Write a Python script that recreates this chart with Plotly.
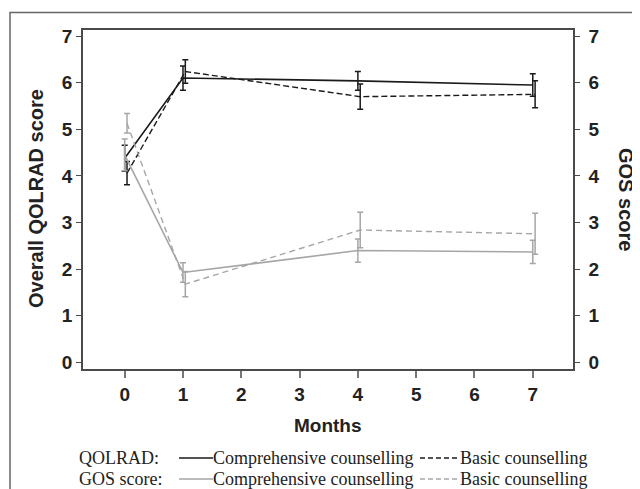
import plotly.graph_objects as go

# ---------------- data ----------------
months = [0, 1, 4, 7]
x_ticks = [0, 1, 2, 3, 4, 5, 6, 7]
y_ticks = [0, 1, 2, 3, 4, 5, 6, 7]

qolrad_comp = [4.38, 6.10, 6.04, 5.95]
qolrad_comp_err = [0.28, 0.26, 0.20, 0.24]
qolrad_basic = [4.06, 6.24, 5.70, 5.75]
qolrad_basic_err = [0.25, 0.25, 0.27, 0.29]

gos_comp = [4.45, 1.93, 2.40, 2.37]
gos_comp_err = [0.34, 0.21, 0.25, 0.25]
gos_basic = [5.13, 1.68, 2.84, 2.76]
gos_basic_err = [0.21, 0.27, 0.38, 0.44]

# ---------------- style ----------------
BLACK = "#1a1a1a"
GRAY = "#a6a6a6"
FRAME = "#4a4a4a"
DODGE = 0.04
OFF = 8
W, H = 640 - OFF, 489 - OFF
ML, MR, MT, MB = 83 - OFF, 67, 30 - OFF, 120
PW, PH = W - ML - MR, H - MT - MB


def px(xpage):
    return (xpage - OFF - ML) / PW


def py(ypage):
    return 1 - (ypage - OFF - MT) / PH


def trace(x, y, err, color, dash, yaxis, dodge=0.0, width=1.6):
    return go.Scatter(
        x=[v + dodge for v in x], y=y, yaxis=yaxis, mode="lines",
        line=dict(color=color, width=width, dash=dash),
        error_y=dict(type="data", array=err, visible=True, color=color,
                     thickness=1.5, width=3),
        showlegend=False, hoverinfo="skip",
    )


fig = go.Figure()
fig.add_trace(trace(months, gos_comp, gos_comp_err, GRAY, "solid", "y2"))
fig.add_trace(trace(months, gos_basic, gos_basic_err, GRAY, "6px,4px", "y2", DODGE, 1.4))
fig.add_trace(trace(months, qolrad_comp, qolrad_comp_err, BLACK, "solid", "y"))
fig.add_trace(trace(months, qolrad_basic, qolrad_basic_err, BLACK, "6px,3px", "y", DODGE, 1.4))

tickfont = dict(family="Liberation Sans", size=19, color="#222", weight="bold")
yrange = [-0.14, 7.13]

fig.update_layout(
    width=W, height=H,
    margin=dict(l=ML, r=MR, t=MT, b=MB),
    paper_bgcolor="white", plot_bgcolor="white",
    showlegend=False,
    xaxis=dict(range=[-0.715, 7.69], tickvals=x_ticks, ticktext=[str(v) for v in x_ticks],
               showgrid=False, zeroline=False, showline=True, linecolor=FRAME, linewidth=1.5,
               mirror=True, ticks="outside", ticklen=7, tickcolor="#777", tickwidth=1.5,
               tickfont=tickfont),
    yaxis=dict(range=yrange, tickvals=y_ticks, showgrid=False, zeroline=False,
               showline=True, linecolor=FRAME, linewidth=1.5, ticks="outside",
               ticklen=5, tickcolor=FRAME, tickwidth=1.2, tickfont=tickfont),
    yaxis2=dict(range=yrange, tickvals=y_ticks, overlaying="y", side="right",
                showgrid=False, zeroline=False, showline=True, linecolor=FRAME,
                linewidth=1.5, ticks="outside", ticklen=5, tickcolor=FRAME,
                tickwidth=1.2, tickfont=tickfont, ticklabelstandoff=5),
)

ytitle_font = dict(family="Liberation Sans", size=20, color="#222", weight="bold")
xtitle_font = dict(family="Liberation Sans", size=19, color="#222", weight="bold")
fig.add_annotation(text="Overall QOLRAD score", xref="paper", yref="paper",
                   x=px(36), y=py(199), textangle=-90, showarrow=False, font=ytitle_font,
                   xanchor="center", yanchor="middle")
fig.add_annotation(text="GOS score", xref="paper", yref="paper",
                   x=px(626), y=py(199), textangle=90, showarrow=False, font=ytitle_font,
                   xanchor="center", yanchor="middle")
fig.add_annotation(text="Months", xref="paper", yref="paper",
                   x=px(328), y=py(425), showarrow=False, font=xtitle_font,
                   xanchor="center", yanchor="middle")

# custom legend
leg_font = dict(family="Liberation Serif", size=18, color="#222")
rows = [("QOLRAD:", BLACK, 458), ("GOS score:", GRAY, 479)]
for label, color, yp in rows:
    yy = py(yp)
    fig.add_annotation(text=label, xref="paper", yref="paper", x=px(77), y=yy,
                       xanchor="left", yanchor="middle", showarrow=False, font=leg_font)
    fig.add_shape(type="line", xref="paper", yref="paper", x0=px(179), x1=px(213),
                  y0=yy, y1=yy, line=dict(color=color, width=1.6))
    fig.add_annotation(text="Comprehensive counselling", xref="paper", yref="paper",
                       x=px(211), y=yy, xanchor="left", yanchor="middle",
                       showarrow=False, font=leg_font)
    fig.add_shape(type="line", xref="paper", yref="paper", x0=px(420), x1=px(457),
                  y0=yy, y1=yy, line=dict(color=color, width=1.4, dash="5px,3px"))
    fig.add_annotation(text="Basic counselling", xref="paper", yref="paper",
                       x=px(458), y=yy, xanchor="left", yanchor="middle",
                       showarrow=False, font=leg_font)

# outer border (right and bottom edges run off the page)
fig.add_shape(type="rect", xref="paper", yref="paper", x0=px(10), x1=px(650),
              y0=py(500), y1=py(12.5), line=dict(color="#666", width=1.5),
              fillcolor="rgba(0,0,0,0)", layer="below")

fig.write_html("out.html")
